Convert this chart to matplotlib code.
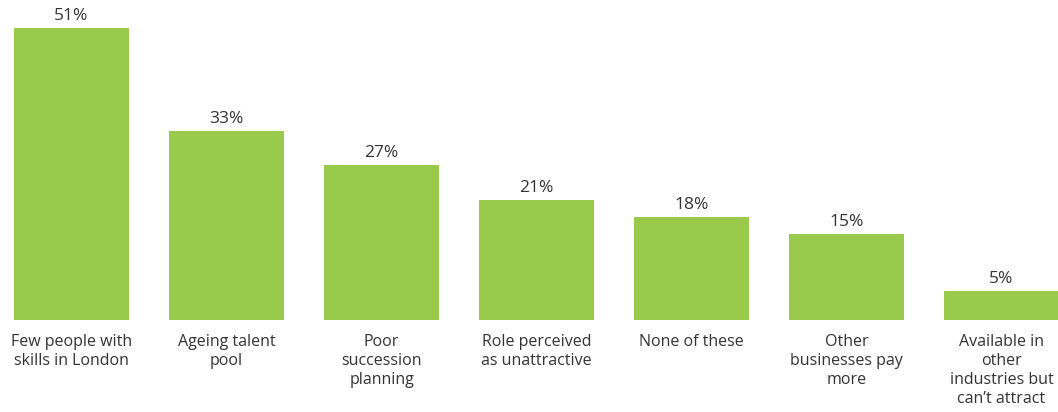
import numpy as np
import matplotlib.pyplot as plt

# 数据
categories = ["Few people with\nskills in London", "Ageing talent\npool",
              "Poor\nsuccession\nplanning", "Role perceived\nas unattractive",
              "None of these", "Other\nbusinesses pay\nmore",
              "Available in\nother\nindustries but\ncan\u2019t attract"]
values = [51, 33, 27, 21, 18, 15, 5]

plt.rcParams['font.family'] = ['Open Sans', 'DejaVu Sans']

fig = plt.figure(figsize=(10.58, 4.12), dpi=100)
ax = fig.add_axes([0, 0, 1, 1])

x = np.arange(len(values))
ax.bar(x, values, width=0.742, color='#9aca4b')

for i, v in enumerate(values):
    ax.annotate(f"{v}%", xy=(i, v), xytext=(0, 3), textcoords='offset points',
                ha='center', va='bottom', fontsize=12.5, color='#333333')
    ax.annotate(categories[i], xy=(i, 0), xytext=(0, -10), textcoords='offset points',
                ha='center', va='top', fontsize=11.5, color='#333333', linespacing=1.24)

ax.set_xlim(-0.4613, 6.3645)
ax.set_ylim(-16.07, 55.9)
ax.axis('off')

fig.savefig('out.png', dpi=100)
